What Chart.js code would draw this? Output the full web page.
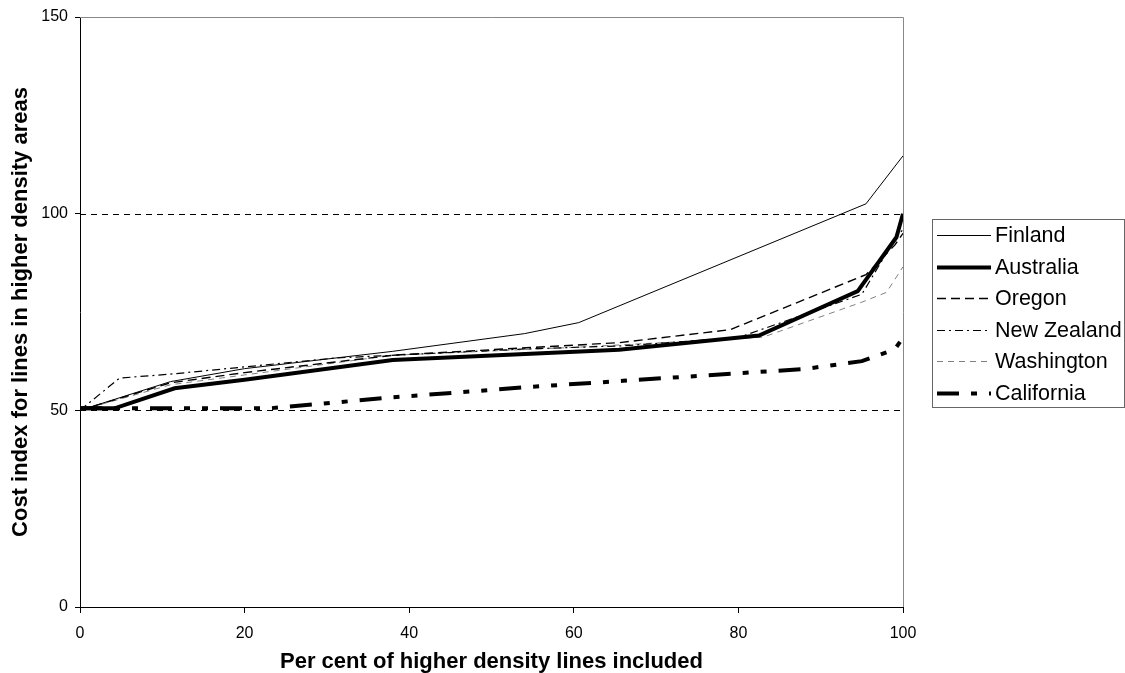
<!DOCTYPE html>
<html>
<head>
<meta charset="utf-8">
<script src="https://cdn.jsdelivr.net/npm/chart.js@4"></script>
<style>
html,body{margin:0;padding:0;background:#fff;}
canvas{display:block;}
</style>
</head>
<body>
<canvas id="c" width="1125" height="673"></canvas>
<script>
// ---- Data ----
const seriesNames = ["Finland", "Australia", "Oregon", "New Zealand", "Washington", "California"];

const finlandX = [0, 11, 20, 38, 54, 60.6, 95.5, 100];
const finlandY = [50, 57.3, 60.6, 65, 69.5, 72.3, 102.5, 114.7];

const australiaX = [0, 4.2, 11.5, 20, 38, 65.5, 82.5, 94.5, 99.2, 100];
const australiaY = [50.5, 50.5, 55.6, 57.8, 62.8, 65.4, 69, 80.3, 94, 100];

const oregonX = [0, 11, 20, 38, 55, 65.5, 79, 95.5, 99, 100];
const oregonY = [50, 57, 59.6, 64, 66, 67.2, 70.5, 84.5, 92, 95];

const newZealandX = [0, 4.8, 11, 31, 54, 66, 80, 95, 99, 100];
const newZealandY = [50, 58.2, 59.2, 63.3, 65.6, 66.4, 68.5, 79.5, 93.5, 96];

const washingtonX = [0, 11, 20, 38, 60, 83, 95, 98, 100];
const washingtonY = [50, 56.5, 59, 64, 66, 68.6, 77.5, 80, 86.5];

const californiaX = [0, 23, 38, 55, 66, 82, 88, 95, 99, 100];
const californiaY = [50.5, 50.5, 53.3, 56, 57.5, 59.7, 60.5, 62.5, 65.5, 68.5];

const xTicks = [0, 20, 40, 60, 80, 100];
const yTicks = [0, 50, 100, 150];
const gridValues = [50, 100];

const xTitle = "Per cent of higher density lines included";
const yTitle = "Cost index for lines in higher density areas";

// ---- Build ----
function pts(xs, ys) { return xs.map((x, i) => ({x: x, y: ys[i]})); }

const FONT = "'Liberation Sans', Arial, Helvetica, sans-serif";

const styles = [
  {color: '#000', width: 1, dash: []},
  {color: '#000', width: 4, dash: []},
  {color: '#000', width: 1.4, dash: [9, 5]},
  {color: '#000', width: 1.2, dash: [8, 4, 2, 4]},
  {color: '#808080', width: 1, dash: [6, 5]},
  {color: '#000', width: 4, dash: [22, 12, 6, 12, 6, 12]}
];

const xsList = [finlandX, australiaX, oregonX, newZealandX, washingtonX, californiaX];
const ysList = [finlandY, australiaY, oregonY, newZealandY, washingtonY, californiaY];

const datasets = seriesNames.map((name, i) => ({
  label: name,
  data: pts(xsList[i], ysList[i]),
  borderColor: styles[i].color,
  borderWidth: styles[i].width,
  borderDash: styles[i].dash,
  pointRadius: 0,
  tension: 0,
  fill: false,
  borderJoinStyle: 'miter',
  borderCapStyle: 'butt'
}));

const framePlugin = {
  id: 'frame',
  beforeDatasetsDraw(chart) {
    const {ctx, chartArea: a, scales} = chart;
    ctx.save();
    ctx.strokeStyle = '#000';
    ctx.lineWidth = 1;
    ctx.setLineDash([6, 5]);
    gridValues.forEach(v => {
      const y = Math.round(scales.y.getPixelForValue(v)) + 0.5;
      ctx.beginPath();
      ctx.moveTo(a.left, y);
      ctx.lineTo(a.right, y);
      ctx.stroke();
    });
    ctx.setLineDash([]);
    ctx.strokeStyle = '#888';
    ctx.beginPath();
    ctx.moveTo(a.left, Math.round(a.top) + 0.5);
    ctx.lineTo(Math.round(a.right) + 0.5, Math.round(a.top) + 0.5);
    ctx.lineTo(Math.round(a.right) + 0.5, a.bottom);
    ctx.stroke();
    ctx.restore();
  }
};

const legendPlugin = {
  id: 'customLegend',
  afterDraw(chart) {
    const {ctx, chartArea: a} = chart;
    const left = a.right + 29, top = 219, w = 192, h = 188;
    ctx.save();
    ctx.fillStyle = '#fff';
    ctx.fillRect(left, top, w, h);
    ctx.strokeStyle = '#666';
    ctx.lineWidth = 1;
    ctx.setLineDash([]);
    ctx.strokeRect(left + 0.5, top + 0.5, w, h);
    ctx.font = "21.5px " + FONT;
    ctx.textBaseline = 'middle';
    ctx.textAlign = 'left';
    chart.data.datasets.forEach((ds, i) => {
      const y = top + 16 + i * 31.6;
      ctx.strokeStyle = ds.borderColor;
      ctx.lineWidth = ds.borderWidth;
      ctx.setLineDash(ds.borderDash);
      ctx.lineCap = 'butt';
      ctx.beginPath();
      ctx.moveTo(left + 5, Math.round(y) + 0.5);
      ctx.lineTo(left + 59, Math.round(y) + 0.5);
      ctx.stroke();
      ctx.setLineDash([]);
      ctx.fillStyle = '#000';
      ctx.fillText(ds.label, left + 63, y + 1);
    });
    ctx.restore();
  }
};

new Chart(document.getElementById('c'), {
  type: 'line',
  data: {datasets: datasets},
  plugins: [framePlugin, legendPlugin],
  options: {
    responsive: false,
    animation: false,
    devicePixelRatio: 1,
    layout: {padding: {top: 17, right: 222, left: 0, bottom: 0}},
    plugins: {legend: {display: false}, tooltip: {enabled: false}},
    scales: {
      x: {
        type: 'linear',
        min: 0, max: 100,
        afterFit(scale) { scale.height = 66; },
        afterBuildTicks(scale) { scale.ticks = xTicks.map(v => ({value: v})); },
        ticks: {color: '#000', font: {family: FONT, size: 16}, padding: 11, maxRotation: 0},
        grid: {drawOnChartArea: false, drawTicks: true, tickLength: 6, tickColor: '#000'},
        border: {display: true, color: '#000', width: 1},
        title: {display: true, text: xTitle, color: '#000', font: {family: FONT, size: 22, weight: 'bold', lineHeight: 1}, padding: {top: 0, bottom: 0}}
      },
      y: {
        type: 'linear',
        min: 0, max: 150,
        afterFit(scale) { scale.width = 80; },
        afterBuildTicks(scale) { scale.ticks = yTicks.map(v => ({value: v})); },
        ticks: {color: '#000', font: {family: FONT, size: 16}, padding: 7},
        grid: {drawOnChartArea: false, drawTicks: true, tickLength: 5, tickColor: '#000'},
        border: {display: true, color: '#000', width: 1},
        title: {display: true, text: yTitle, color: '#000', font: {family: FONT, size: 22, weight: 'bold', lineHeight: 1}, padding: {top: 9.5, bottom: 0}}
      }
    }
  }
});
</script>
</body>
</html>
